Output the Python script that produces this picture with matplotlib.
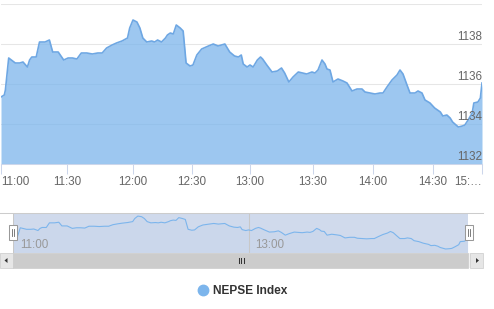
import numpy as np
import matplotlib
matplotlib.use('Agg')
import matplotlib.pyplot as plt
from matplotlib.lines import Line2D
from matplotlib.patches import Rectangle, Polygon

plt.rcParams['font.family'] = ['Liberation Sans', 'DejaVu Sans']

# minutes after 11:00 and NEPSE index value
minutes = [0, 1.5, 2, 3.5, 6.5, 8.5, 10, 12, 13, 14, 16, 17.5, 20, 22, 23.5, 26, 28.5,
           30.5, 32.5, 34.5, 36.5, 38, 39, 41.5, 44, 46, 48, 50.5, 52.5, 55, 57.5, 58.5,
           60, 62, 63.5, 65, 67, 69.5, 71, 72.5, 74.5, 76.5, 77.5, 79, 80.5, 82, 84, 85.5,
           87, 89, 90.5, 92.5, 95, 98.5, 101, 103.5, 107, 109.5, 112, 114, 115.5, 116.5, 118.5,
           120, 121.5, 123.5, 125, 126, 128, 130.5, 133, 135, 136.5, 138.5, 140.5, 143, 145,
           147, 149.5, 151, 152.5, 154.5, 156, 157, 158.5, 160, 162.5, 165, 167, 169.5, 172,
           174.5, 176, 178.5, 181, 183.5, 185, 187, 189.5, 192, 193.5, 195, 197, 198.5, 201,
           202.5, 204.5, 206, 208.5, 211, 214.5, 216, 218.5, 220.5, 222, 225.5, 228, 229.5,
           231.5, 234, 235, 237.5, 239, 240]
values = [1135.35, 1135.45, 1135.7, 1137.3, 1137.05, 1137.05, 1137.1, 1136.85, 1137.2, 1137.35,
          1137.35, 1138.1, 1138.1, 1138.2, 1137.6, 1137.6, 1137.2,
          1137.3, 1137.3, 1137.25, 1137.55, 1137.55, 1137.55, 1137.5, 1137.55, 1137.55, 1137.8,
          1137.95, 1138.05, 1138.15, 1138.3, 1138.8,
          1139.2, 1139.1, 1138.8, 1138.3, 1138.1, 1138.15, 1138.1, 1138.2, 1138.1, 1138.3,
          1138.45, 1138.55, 1138.5, 1138.95, 1138.8, 1138.65,
          1137.05, 1136.9, 1136.95, 1137.45, 1137.75, 1137.9, 1138.0, 1137.9, 1138.0, 1137.6,
          1137.4, 1137.35, 1137.45, 1137.0, 1136.85,
          1136.95, 1136.85, 1137.2, 1137.35, 1137.25, 1136.95, 1136.6, 1136.65, 1136.8, 1136.55,
          1136.1, 1136.35, 1136.6, 1136.55,
          1136.5, 1136.6, 1136.55, 1136.7, 1137.2, 1137.0, 1136.75, 1136.7, 1136.1, 1136.25,
          1136.15, 1136.05, 1135.65, 1135.75,
          1135.75, 1135.6, 1135.55, 1135.5, 1135.55, 1135.55, 1135.85, 1136.2, 1136.45, 1136.7,
          1136.5, 1135.95, 1135.55, 1135.55,
          1135.65, 1135.55, 1135.2, 1135.05, 1134.8, 1134.6, 1134.4, 1134.45, 1134.3, 1134.1,
          1133.85, 1133.9, 1133.95,
          1134.2, 1134.55, 1135.05, 1135.1, 1135.3, 1136.05]

tick_min = [0, 30, 60, 90, 120, 150, 180, 210, 240]
tick_labels = ['11:00', '11:30', '12:00', '12:30', '13:00', '13:30', '14:00', '14:30', '15:…']
# ordinal axis spacing (highstock skips gaps, so half hours are not equally wide)
tick_ord = [1, 67, 133, 192, 250, 313, 373, 433, 482]
y_ticks = [1132, 1134, 1136, 1138, 1140]
nav_ticks = [0, 120]
nav_labels = ['11:00', '13:00']

t = np.array(minutes)
v = np.array(values)

def fwd(x):
    return np.interp(x, tick_min, tick_ord)

def inv(x):
    return np.interp(x, tick_ord, tick_min)

W, H = 494, 309
fig = plt.figure(figsize=(W/100, H/100), dpi=100)

def fx(x):
    return x / W

def fy(y):
    return 1 - y / H

blue = '#7cb5ec'

## main chart ##
ax = fig.add_axes([fx(1), fy(164), fx(481), 160/H])
ax.set_xscale('function', functions=(fwd, inv))
ax.fill_between(t, v, 1132, color=blue, alpha=0.75, lw=0, zorder=2)
ax.plot(t, v, color='#6ea7e3', lw=1.2, zorder=3)
ax.set_xlim(0, 240)
ax.set_ylim(1132, 1140)
ax.set_yticks(y_ticks)
ax.yaxis.grid(True, color='#e6e6e6', lw=0.75, zorder=0)
ax.tick_params(axis='y', length=0, labelleft=False)
ax.set_xticks(tick_min)
ax.set_xticklabels(tick_labels)
ax.tick_params(axis='x', length=7.2, width=0.75, color='#ccd6eb', labelcolor='#666666',
               labelsize=8.4, pad=1.2)
labs = ax.get_xticklabels()
labs[0].set_ha('left')
labs[-1].set_ha('right')
for s in ['top', 'left', 'right']:
    ax.spines[s].set_visible(False)
ax.spines['bottom'].set_color('#ccd6eb')
ax.spines['bottom'].set_linewidth(0.75)
ax.spines['bottom'].set_zorder(4)
for yt in y_ticks[:-1]:
    ax.annotate(str(yt), xy=(1.0, yt), xycoords=('axes fraction', 'data'),
                xytext=(0, 1), textcoords='offset points', ha='right', va='bottom',
                fontsize=8.4, color='#666666', zorder=5)

## navigator ##
nav = fig.add_axes([fx(13), fy(253), fx(455), 40/H])
nav.set_xscale('function', functions=(fwd, inv))
nav.fill_between(t, v, 1133.2, color=blue, alpha=0.05, lw=0)
nav.plot(t, v, color=blue, lw=0.8)
nav.set_xlim(0, 240)
nav.set_ylim(1133.2, 1139.7)
nav.set_xticks(nav_ticks)
nav.xaxis.grid(True, color='#c8c8c8', lw=0.75)
nav.tick_params(length=0, labelbottom=False, labelleft=False)
nav.set_yticks([])
nav.axvspan(0, 240, color=(102/255, 133/255, 194/255), alpha=0.3, lw=0)
for s in nav.spines.values():
    s.set_visible(False)
for nt, nl in zip(nav_ticks, nav_labels):
    nav.annotate(nl, xy=(nt, 0.2), xycoords=('data', 'axes fraction'),
                 xytext=(5, 0), textcoords='offset points', ha='left', va='center',
                 fontsize=8.4, color='#999999')

# outline on top of navigator
fig.add_artist(Line2D([fx(0), fx(483)], [fy(213), fy(213)], color='#cccccc', lw=0.75))

# scrollbar
def box(x0, y0, x1, y1, **kw):
    fig.add_artist(Rectangle((fx(x0), fy(y1)), fx(x1 - x0), (y1 - y0)/H,
                             transform=fig.transFigure, **kw))

box(0, 253, 483, 268, facecolor='#f2f2f2', edgecolor='none')
box(0, 253, 13, 268, facecolor='#e6e6e6', edgecolor='#cccccc', lw=0.5)
box(470, 253, 483, 268, facecolor='#e6e6e6', edgecolor='#cccccc', lw=0.5)
box(13, 253, 468, 268, facecolor='#cccccc', edgecolor='#cccccc', lw=0.5)
for gx in [238.5, 241, 243.5]:
    fig.add_artist(Line2D([fx(gx), fx(gx)], [fy(257.5), fy(263)], color='#333333', lw=0.75))
fig.add_artist(Polygon([[fx(4.5), fy(260.5)], [fx(7.5), fy(258)], [fx(7.5), fy(263)]],
                       closed=True, transform=fig.transFigure, color='#333333', lw=0))
fig.add_artist(Polygon([[fx(479), fy(260.5)], [fx(476), fy(258)], [fx(476), fy(263)]],
                       closed=True, transform=fig.transFigure, color='#333333', lw=0))

# handles
for hx in [13, 468.5]:
    box(hx - 4, 225, hx + 4, 240, facecolor='white', edgecolor='#999999', lw=0.75)
    for lx in [hx - 1, hx + 1]:
        fig.add_artist(Line2D([fx(lx), fx(lx)], [fy(229), fy(236)], color='#666666', lw=0.6))

## legend ##
handle = Line2D([], [], marker='o', ls='', color=blue, markersize=7.5)
fig.legend(handles=[handle], labels=['NEPSE Index'], loc='center',
           bbox_to_anchor=(fx(242), fy(291)), frameon=False, handletextpad=0.3,
           handlelength=1.0, prop={'weight': 'bold', 'size': 8.6}, labelcolor='#333333')

plt.savefig('out.png', dpi=100)
